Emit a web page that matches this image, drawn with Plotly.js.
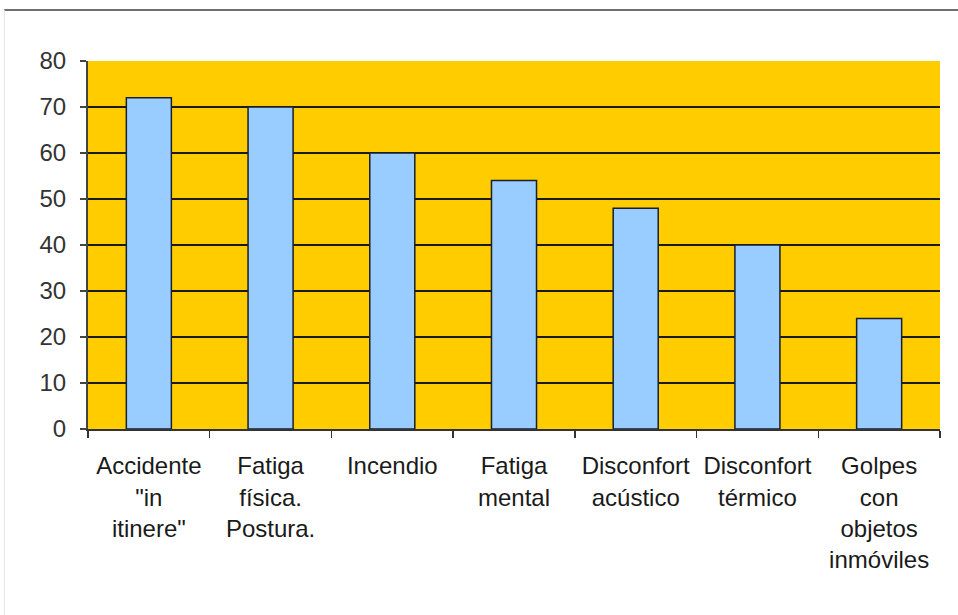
<!DOCTYPE html>
<html>
<head>
<meta charset="utf-8">
<script src="https://cdn.plot.ly/plotly-3.0.1.min.js"></script>
<style>
html,body{margin:0;padding:0;background:#fff;}
#frame{position:absolute;left:4px;top:9px;width:954px;height:606px;border-top:2px solid #6f6f6f;border-left:1px solid #e6e6e6;box-sizing:border-box;pointer-events:none;}
#chart{position:absolute;left:0;top:0;width:958px;height:615px;}
</style>
</head>
<body>
<div id="chart"></div>
<div id="frame"></div>
<script>
const categories = [
  'Accidente<br>"in<br>itinere"',
  'Fatiga<br>física.<br>Postura.',
  'Incendio',
  'Fatiga<br>mental',
  'Disconfort<br>acústico',
  'Disconfort<br>térmico',
  'Golpes<br>con<br>objetos<br>inmóviles'
];
const values = [72, 70, 60, 54, 48, 40, 24];
const yTicks = [0, 10, 20, 30, 40, 50, 60, 70, 80];

const trace = {
  type: 'bar',
  x: categories,
  y: values,
  marker: {color: '#99CCFF', line: {color: '#1b1f2a', width: 1.5}},
  hoverinfo: 'none'
};

const layout = {
  width: 958, height: 615,
  margin: {l: 88, r: 18, t: 61, b: 186},
  paper_bgcolor: 'rgba(0,0,0,0)',
  plot_bgcolor: '#FFCC00',
  showlegend: false,
  bargap: 0.63,
  font: {family: 'Liberation Sans, Arial, sans-serif', size: 24, color: '#1a1a1a'},
  xaxis: {
    type: 'category',
    showline: true, linecolor: '#333', linewidth: 1.5,
    ticks: 'outside', tickson: 'boundaries', ticklen: 7, tickcolor: '#333', tickwidth: 1.5,
    ticklabelstandoff: 15,
    showgrid: false, zeroline: false,
    tickangle: 0,
    tickfont: {size: 24, lineposition: 'none'}
  },
  yaxis: {
    range: [0, 80],
    tickvals: yTicks,
    showline: true, linecolor: '#444', linewidth: 2,
    ticks: 'outside', ticklen: 6, tickcolor: '#444', tickwidth: 1.5,
    ticklabelstandoff: 9,
    showgrid: true, gridcolor: '#1a1a1a', gridwidth: 1.6,
    zeroline: false,
    tickfont: {size: 24, color: '#333'}
  }
};

Plotly.newPlot('chart', [trace], layout, {displayModeBar: false, staticPlot: true});
</script>
</body>
</html>
